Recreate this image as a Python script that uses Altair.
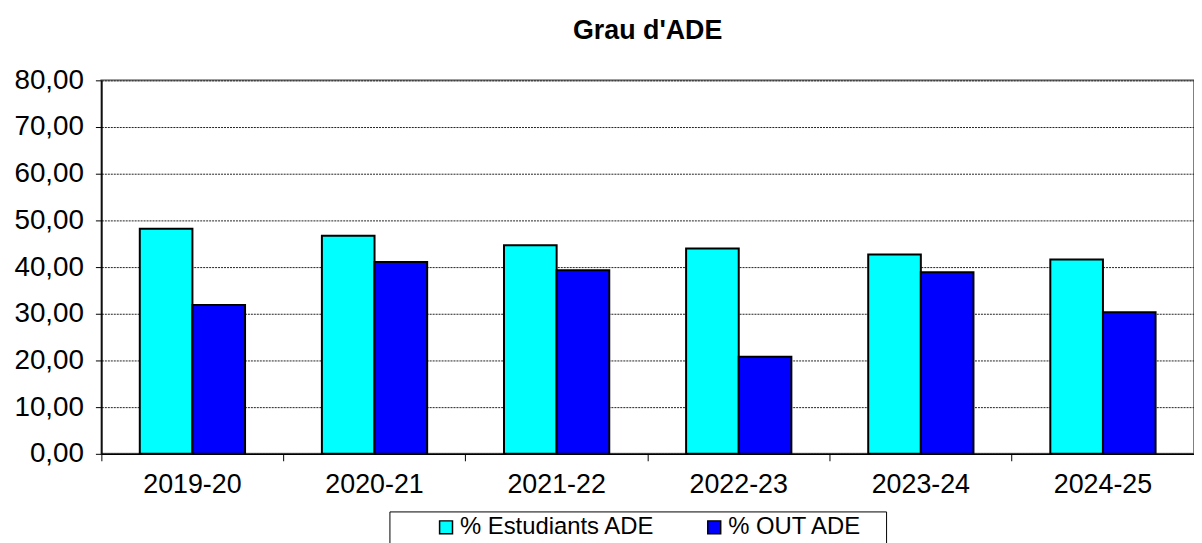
import altair as alt
import pandas as pd

years = ["2019-20", "2020-21", "2021-22", "2022-23", "2023-24", "2024-25"]
estudiants_ade = [48.2, 46.7, 44.7, 44.0, 42.7, 41.6]
out_ade = [31.9, 41.1, 39.3, 20.8, 38.9, 30.3]
series = ["% Estudiants ADE", "% OUT ADE"]
colors = ["#00FFFF", "#0000FF"]
y_ticks = [0, 10, 20, 30, 40, 50, 60, 70, 80]

rows = []
for i, yr in enumerate(years):
    rows.append({"year": yr, "serie": series[0], "value": estudiants_ade[i]})
    rows.append({"year": yr, "serie": series[1], "value": out_ade[i]})
df = pd.DataFrame(rows)

FONT = "Liberation Sans"
WIDTH = 1100

bars = alt.Chart(df).mark_bar(stroke="black", strokeWidth=2).encode(
    x=alt.X("year:N", sort=years, scale=alt.Scale(paddingInner=0, paddingOuter=0),
            axis=alt.Axis(title=None, labelAngle=0, labelFontSize=27, labelFont=FONT,
                          labelColor="black", ticks=True, tickSize=7, tickColor="black",
                          bandPosition=0, labelPadding=11,
                          domainColor="black", domainWidth=1.5, grid=False)),
    xOffset=alt.XOffset("serie:N", sort=series,
                        scale=alt.Scale(paddingInner=0, paddingOuter=0.73)),
    y=alt.Y("value:Q", scale=alt.Scale(domain=[0, 80], nice=False),
            axis=alt.Axis(title=None, values=y_ticks,
                          labelExpr="replace(format(datum.value, '.2f'), '.', ',')",
                          labelFontSize=28, labelFont=FONT, labelColor="black",
                          labelPadding=12, tickSize=6, tickColor="black",
                          domainColor="black", domainWidth=1.5,
                          grid=True, gridColor="#222222", gridDash=[2, 1], gridWidth=1)),
    color=alt.Color("serie:N", scale=alt.Scale(domain=series, range=colors),
                    legend=alt.Legend(title=" ", titleOrient="right", titlePadding=20,
                                      orient="none", direction="horizontal",
                                      legendX=290, legendY=434, padding=4,
                                      symbolOffset=41, labelLimit=400,
                                      strokeColor="black", fillColor="white",
                                      symbolType="square", symbolSize=169,
                                      symbolStrokeColor="black", symbolStrokeWidth=1.5,
                                      labelFontSize=24, labelFont=FONT, labelColor="black",
                                      labelOffset=2, columnPadding=6)),
)

chart = bars.properties(
    width=WIDTH, height=376,
    autosize=alt.AutoSizeParams(type="none"),
    padding={"left": 94, "top": 71, "right": 0, "bottom": 96},
    title=alt.Title("Grau d'ADE", fontSize=27, fontWeight="bold", font=FONT,
                    color="black", anchor="middle", frame="group", offset=22),
).configure_view(stroke="#808080", strokeWidth=2)

chart.save("out.html", embed_options={"renderer": "svg", "actions": False})
